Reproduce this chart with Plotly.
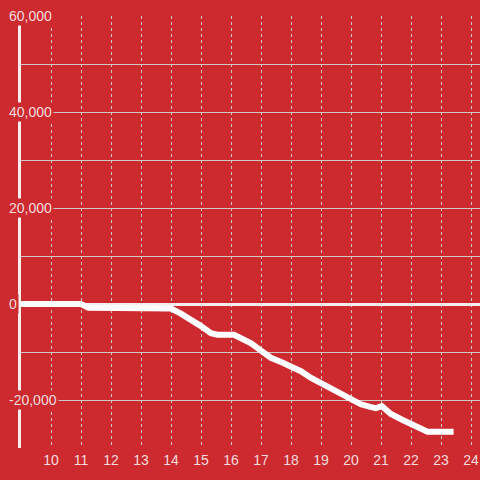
import plotly.graph_objects as go

# data
hours = [9, 11.0, 11.25, 13.85, 14.0, 14.33, 14.5, 14.67, 15.0, 15.33, 15.55, 16.1, 16.33,
         16.67, 17.0, 17.33, 17.67, 18.0, 18.33, 18.67, 19.0, 19.33, 19.67, 20.0, 20.33,
         20.67, 20.83, 21.03, 21.33, 21.67, 22.0, 22.33, 22.55, 23.42]
values = [0, 0, -800, -800, -950, -2000, -2600, -3100, -4600, -6100, -6400, -6400, -7000,
          -8200, -9700, -11200, -12100, -13100, -14000, -15400, -16500, -17500, -18700,
          -19800, -20900, -21500, -21700, -21300, -22900, -24000, -25000, -26000, -26600, -26600]

x_ticks = list(range(10, 25))
y_label_vals = [60000, 40000, 20000, 0, -20000]
y_label_text = ["60,000", "40,000", "20,000", "0", "-20,000"]

BG = "#cc2a2f"
TXT = "#f4dcdc"
GRID = "#d0c8c8"
FONT = "Liberation Sans, Arial, sans-serif"

fig = go.Figure()
fig.add_trace(go.Scatter(x=hours, y=values, mode="lines",
                         line=dict(color="#ffffff", width=6), hoverinfo="skip"))

for v, t in zip(y_label_vals, y_label_text):
    fig.add_annotation(x=-0.03, xref="paper", y=v, yref="y", text=t, showarrow=False,
                       xanchor="left", yanchor="middle", bgcolor=BG, borderpad=1,
                       font=dict(family=FONT, size=14, color=TXT))

fig.update_layout(
    width=480, height=480,
    margin=dict(l=21, r=0, t=16, b=32),
    paper_bgcolor=BG, plot_bgcolor=BG,
    showlegend=False,
    font=dict(family=FONT, size=14, color=TXT),
    xaxis=dict(range=[9, 9 + 459 / 30], tickvals=x_ticks, ticktext=[str(v) for v in x_ticks],
               showgrid=True, gridcolor=GRID, griddash="dot", gridwidth=1,
               zeroline=False, showline=False, ticks="", ticklabelstandoff=2,
               tickfont=dict(family=FONT, size=14, color=TXT)),
    yaxis=dict(range=[-30000, 60000], dtick=10000, showticklabels=False,
               showgrid=True, gridcolor=GRID, gridwidth=1,
               zeroline=True, zerolinecolor="#f6eeee", zerolinewidth=3,
               showline=True, linecolor="#f6eeee", linewidth=3, ticks=""),
)

fig.write_html("out.html", config={"displayModeBar": False},
               post_script="document.body.style.margin='0px';")
